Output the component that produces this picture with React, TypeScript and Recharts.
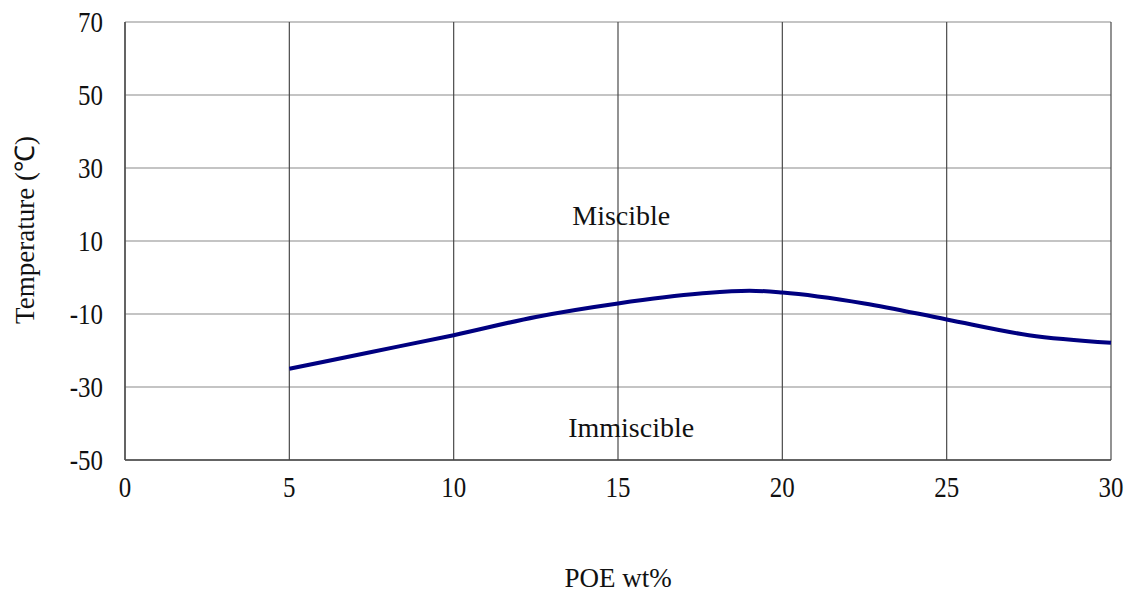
import React from "react";
import { LineChart, Line, XAxis, YAxis, CartesianGrid, ReferenceDot, Label } from "recharts";

const poeWt = [5, 7.5, 10, 12.5, 15, 17.5, 19, 20, 22.5, 25, 27.5, 30];
const temperature = [-25, -20.4, -15.8, -10.8, -7.1, -4.4, -3.6, -4.1, -7.1, -11.5, -15.8, -17.9];
const xTicks = [0, 5, 10, 15, 20, 25, 30];
const yTicks = [-50, -30, -10, 10, 30, 50, 70];
const regionLabels = [
  { x: 15.1, y: 17.1, text: "Miscible" },
  { x: 15.4, y: -41, text: "Immiscible" },
];

const data = poeWt.map((x, i) => ({ x, t: temperature[i] }));
const FONT = "'Liberation Serif', 'Times New Roman', serif";

const StretchTick = ({ x, y, payload, anchor, dy }: any) => (
  <text
    transform={`translate(${x} ${y}) scale(0.86 1)`}
    textAnchor={anchor}
    dy={dy}
    fontSize={29}
    fontFamily={FONT}
    fill="#111"
  >
    {payload.value}
  </text>
);

export default function App() {
  return (
    <div style={{ position: "absolute", left: 0, top: 0, width: 1132, height: 594, background: "#fff" }}>
      <LineChart width={1132} height={594} data={data} margin={{ top: 22, right: 21, bottom: 0, left: 0 }}>
        <CartesianGrid horizontal={true} vertical={false} stroke="#8a8a8a" strokeWidth={1.2} />
        <CartesianGrid horizontal={false} vertical={true} stroke="#4a4a4a" strokeWidth={1.2} />
        <XAxis
          dataKey="x"
          type="number"
          domain={[0, 30]}
          ticks={xTicks}
          height={134}
          tickLine={false}
          tickSize={0}
          tickMargin={17}
          axisLine={{ stroke: "#444", strokeWidth: 1.5 }}
          tick={(p: any) => <StretchTick {...p} anchor="middle" dy={20} />}
        >
          <Label
            content={({ viewBox }: any) => (
              <text
                x={viewBox.x + viewBox.width / 2}
                y={viewBox.y + 127}
                textAnchor="middle"
                fontSize={27}
                fontFamily={FONT}
                fill="#111"
              >
                POE wt%
              </text>
            )}
          />
        </XAxis>
        <YAxis
          type="number"
          domain={[-50, 70]}
          ticks={yTicks}
          width={125}
          tickLine={false}
          tickSize={0}
          tickMargin={22}
          axisLine={{ stroke: "#555", strokeWidth: 1.5 }}
          tick={(p: any) => <StretchTick {...p} anchor="end" dy={10} />}
        >
          <Label
            content={({ viewBox }: any) => {
              const cx = viewBox.x + 25;
              const cy = viewBox.y + viewBox.height / 2 - 11;
              return (
                <text
                  x={cx}
                  y={cy}
                  transform={`rotate(-90 ${cx} ${cy})`}
                  textAnchor="middle"
                  dominantBaseline="central"
                  fontSize={27}
                  fontFamily={FONT}
                  fill="#111"
                >
                  Temperature (℃)
                </text>
              );
            }}
          />
        </YAxis>
        <Line
          type="monotone"
          dataKey="t"
          stroke="#000080"
          strokeWidth={4}
          dot={false}
          activeDot={false}
          isAnimationActive={false}
        />
        {regionLabels.map((r) => (
          <ReferenceDot
            key={r.text}
            x={r.x}
            y={r.y}
            r={0}
            fill="none"
            stroke="none"
            label={{ value: r.text, position: "center", fontSize: 28, fontFamily: FONT, fill: "#111" }}
          />
        ))}
      </LineChart>
    </div>
  );
}
